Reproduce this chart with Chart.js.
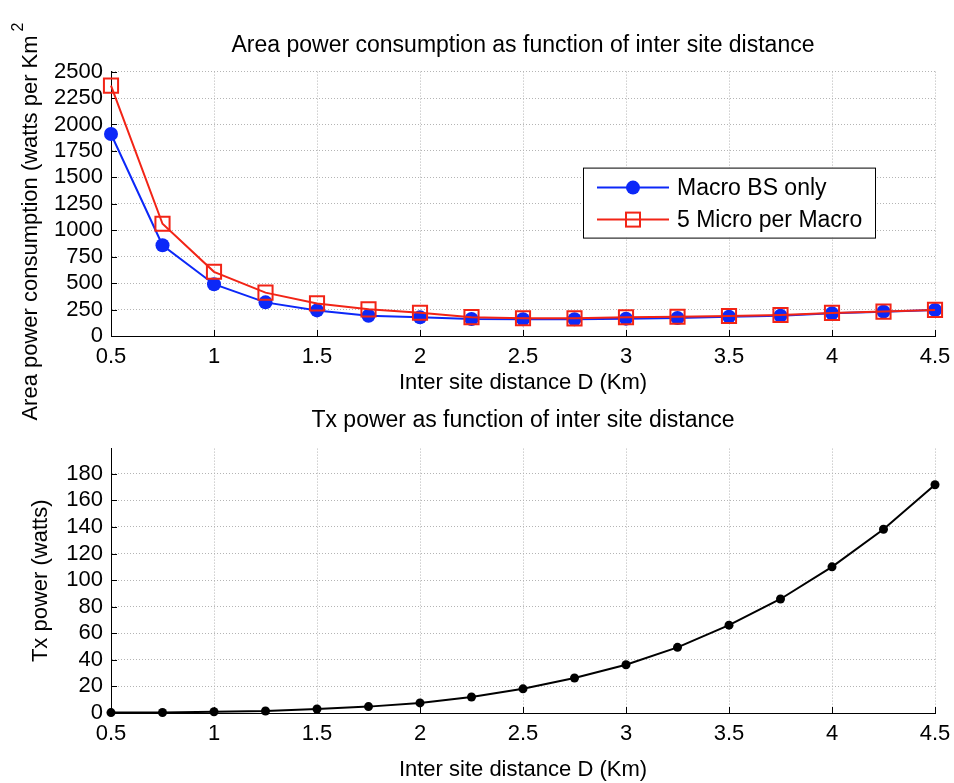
<!DOCTYPE html>
<html>
<head>
<meta charset="utf-8">
<script src="https://cdn.jsdelivr.net/npm/chart.js@4.4.0/dist/chart.umd.min.js"></script>
<style>
  body { margin: 0; background: #fff; }
  #wrap { position: relative; width: 954px; height: 783px; }
  canvas { position: absolute; left: 0; top: 0; }
</style>
</head>
<body>
<div id="wrap">
  <canvas id="txChart" width="954" height="783"></canvas>
  <canvas id="areaChart" width="954" height="783"></canvas>
</div>
<script>
// inter site distance (Km)
const distances = [0.5, 0.75, 1, 1.25, 1.5, 1.75, 2, 2.25, 2.5, 2.75, 3, 3.25, 3.5, 3.75, 4, 4.25, 4.5];

// area power consumption (watts per Km^2)
const macroOnly = [1910, 858, 490, 318, 242, 192, 177, 161, 158, 159, 164, 170, 183, 192, 214, 230, 246];
const microPerMacro = [2367, 1061, 607, 410, 308, 252, 220, 178, 168, 167, 177, 182, 189, 199, 218, 231, 247];

// Tx power (watts)
const txPower = [0.3, 0.4, 0.9, 1.5, 3, 4.8, 7.6, 12, 18.2, 26.3, 36.3, 49.4, 66.1, 85.8, 110, 138.3, 171.8];

const areaTicks = [0, 250, 500, 750, 1000, 1250, 1500, 1750, 2000, 2250, 2500];
const txTicks = [0, 20, 40, 60, 80, 100, 120, 140, 160, 180];

const FONT = "'Liberation Sans', Arial, Helvetica, sans-serif";
const BLUE = "rgb(12,40,248)";
const RED = "rgb(242,36,22)";
const GRID = "#b4b4b4";

Chart.defaults.font.family = FONT;
Chart.defaults.font.size = 22;
Chart.defaults.color = "#000";

const toXY = (ys) => ys.map((y, i) => ({ x: distances[i], y: y }));

// small inward tick marks, like matlab axes
const innerTicks = {
  id: "innerTicks",
  beforeDatasetsDraw(chart) {
    const { ctx, chartArea, scales } = chart;
    ctx.save();
    ctx.strokeStyle = "#000";
    ctx.lineWidth = 1;
    ctx.beginPath();
    scales.x.ticks.forEach((t) => {
      const px = Math.round(scales.x.getPixelForValue(t.value)) + 0.5;
      ctx.moveTo(px, chartArea.bottom);
      ctx.lineTo(px, chartArea.bottom - 6);
    });
    scales.y.ticks.forEach((t) => {
      const py = Math.round(scales.y.getPixelForValue(t.value)) + 0.5;
      ctx.moveTo(chartArea.left, py);
      ctx.lineTo(chartArea.left + 6, py);
    });
    ctx.stroke();
    ctx.restore();
  },
};

// y title of the top plot, with the superscript 2
const areaYTitle = {
  id: "areaYTitle",
  afterDraw(chart) {
    const ctx = chart.ctx;
    const main = "Area power consumption (watts per Km";
    ctx.save();
    ctx.translate(31, 228);
    ctx.rotate(-Math.PI / 2);
    ctx.font = "22px " + FONT;
    ctx.fillStyle = "#000";
    ctx.textBaseline = "middle";
    const w = ctx.measureText(main).width;
    ctx.textAlign = "left";
    ctx.fillText(main, -w / 2, 0);
    ctx.font = "16px " + FONT;
    ctx.fillText("2", w / 2 + 4, -12);
    ctx.restore();
  },
};

// boxed legend inside the top plot
const boxLegend = {
  id: "boxLegend",
  afterDraw(chart) {
    const { ctx, chartArea } = chart;
    const left = chartArea.right - 352;
    const top = chartArea.top + 96;
    const w = 292, h = 70;
    ctx.save();
    ctx.fillStyle = "#fff";
    ctx.fillRect(left, top, w, h);
    ctx.strokeStyle = "#000";
    ctx.lineWidth = 1;
    ctx.strokeRect(left + 0.5, top + 0.5, w, h);
    const items = [chart.data.datasets[1], chart.data.datasets[0]];
    items.forEach((ds, i) => {
      const y = top + 20 + i * 32;
      ctx.strokeStyle = ds.borderColor;
      ctx.lineWidth = 2;
      ctx.beginPath();
      ctx.moveTo(left + 14, y);
      ctx.lineTo(left + 86, y);
      ctx.stroke();
      const cx = left + 50;
      if (ds.pointStyle === "circle") {
        ctx.fillStyle = ds.pointBackgroundColor;
        ctx.beginPath();
        ctx.arc(cx, y, ds.pointRadius, 0, Math.PI * 2);
        ctx.fill();
      } else {
        ctx.lineWidth = ds.pointBorderWidth;
        ctx.strokeRect(cx - 7, y - 7, 14, 14);
      }
      ctx.fillStyle = "#000";
      ctx.font = "23px " + FONT;
      ctx.textBaseline = "middle";
      ctx.textAlign = "left";
      ctx.fillText(ds.label, left + 94, y + 1);
    });
    ctx.restore();
  },
};

const gridOpts = {
  color: GRID,
  lineWidth: 1,
  drawTicks: false,
};
const borderOpts = { display: true, color: "#000", width: 1, dash: [1, 2] };

const fixX = (h) => (s) => {
  s.height = h;
  s.paddingLeft = 0;
  s.paddingRight = 0;
};
const fixY = (s) => {
  s.width = 111;
  s.paddingTop = 0;
  s.paddingBottom = 0;
};

new Chart(document.getElementById("areaChart"), {
  type: "line",
  data: {
    datasets: [
      {
        label: "5 Micro per Macro",
        data: toXY(microPerMacro),
        borderColor: RED,
        borderWidth: 2,
        pointStyle: "rect",
        pointRadius: 10,
        pointBorderWidth: 2,
        pointBorderColor: RED,
        pointBackgroundColor: "rgba(0,0,0,0)",
        tension: 0,
        clip: false,
        order: 0,
      },
      {
        label: "Macro BS only",
        data: toXY(macroOnly),
        borderColor: BLUE,
        borderWidth: 2,
        pointStyle: "circle",
        pointRadius: 7,
        pointBorderWidth: 0,
        pointBackgroundColor: BLUE,
        tension: 0,
        clip: false,
        order: 1,
      },
    ],
  },
  options: {
    responsive: false,
    animation: false,
    events: [],
    layout: { padding: { left: 0, right: 19, top: 0, bottom: 387 } },
    plugins: {
      legend: { display: false },
      tooltip: { enabled: false },
      title: {
        display: true,
        fullSize: false,
        text: "Area power consumption as function of inter site distance",
        font: { size: 23, weight: "normal" },
        padding: { top: 32, bottom: 12 },
      },
    },
    scales: {
      x: {
        type: "linear",
        min: 0.5,
        max: 4.5,
        ticks: { stepSize: 0.5, padding: 8, autoSkip: false, maxRotation: 0, callback: (v) => String(v) },
        grid: { ...gridOpts },
        border: borderOpts,
        title: { display: true, text: "Inter site distance D (Km)", padding: 0 },
        afterFit: fixX(60),
      },
      y: {
        type: "linear",
        min: 0,
        max: 2500,
        afterBuildTicks: (s) => { s.ticks = areaTicks.map((v) => ({ value: v })); },
        ticks: { padding: 8, autoSkip: false, callback: (v) => String(v) },
        grid: { ...gridOpts },
        border: borderOpts,
        afterFit: fixY,
      },
    },
  },
  plugins: [innerTicks, areaYTitle, boxLegend],
});

new Chart(document.getElementById("txChart"), {
  type: "line",
  data: {
    datasets: [
      {
        label: "Tx power",
        data: toXY(txPower),
        borderColor: "#000",
        borderWidth: 2,
        pointStyle: "circle",
        pointRadius: 4.5,
        pointBorderWidth: 0,
        pointBackgroundColor: "#000",
        tension: 0,
        clip: false,
      },
    ],
  },
  options: {
    responsive: false,
    animation: false,
    events: [],
    layout: { padding: { left: 0, right: 19, top: 0, bottom: 0 } },
    plugins: {
      legend: { display: false },
      tooltip: { enabled: false },
      title: {
        display: true,
        fullSize: false,
        text: "Tx power as function of inter site distance",
        font: { size: 23, weight: "normal" },
        padding: { top: 407, bottom: 14 },
      },
    },
    scales: {
      x: {
        type: "linear",
        min: 0.5,
        max: 4.5,
        ticks: { stepSize: 0.5, padding: 8, autoSkip: false, maxRotation: 0, callback: (v) => String(v) },
        grid: { ...gridOpts },
        border: borderOpts,
        title: { display: true, text: "Inter site distance D (Km)", padding: 0 },
        afterFit: fixX(70),
      },
      y: {
        type: "linear",
        min: 0,
        max: 199,
        afterBuildTicks: (s) => { s.ticks = txTicks.map((v) => ({ value: v })); },
        ticks: { padding: 8, autoSkip: false, callback: (v) => String(v) },
        grid: { ...gridOpts },
        border: borderOpts,
        title: { display: true, text: "Tx power (watts)", padding: { top: 28, bottom: 0 } },
        afterFit: fixY,
      },
    },
  },
  plugins: [innerTicks],
});
</script>
</body>
</html>
